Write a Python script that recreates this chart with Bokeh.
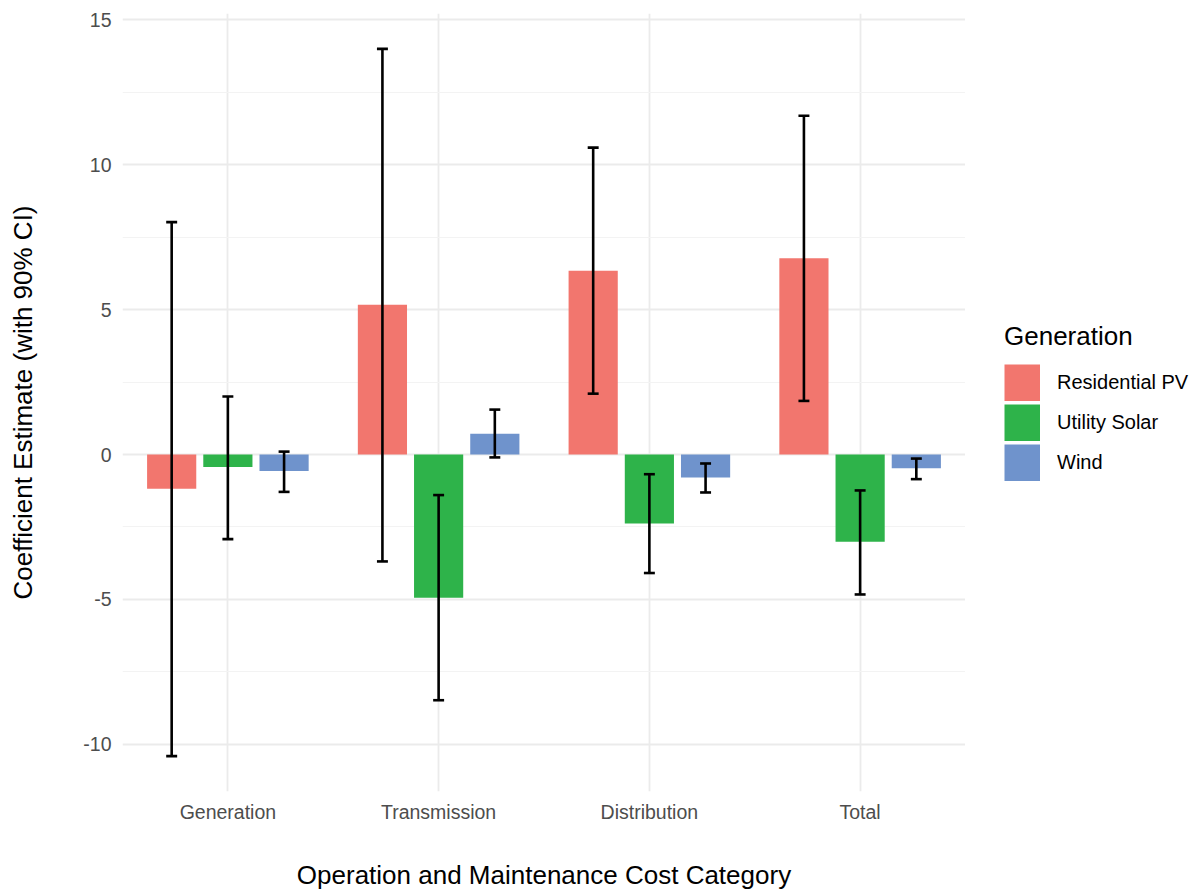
from bokeh.plotting import figure
from bokeh.layouts import row
from bokeh.models import (ColumnDataSource, FactorRange, Range1d, FixedTicker,
                          Legend, LegendItem)
from bokeh.transform import dodge
from bokeh.embed import file_html
from bokeh.resources import INLINE

# O&M cost coefficient estimates with 90% confidence intervals
categories = ["Generation", "Transmission", "Distribution", "Total"]
series_names = ["Residential PV", "Utility Solar", "Wind"]

res_pv = [-1.18, 5.17, 6.34, 6.77]
res_pv_lo = [-10.41, -3.69, 2.10, 1.85]
res_pv_hi = [8.02, 14.00, 10.59, 11.69]

util_solar = [-0.43, -4.94, -2.38, -3.01]
util_solar_lo = [-2.92, -8.48, -4.09, -4.83]
util_solar_hi = [2.00, -1.40, -0.68, -1.24]

wind = [-0.57, 0.72, -0.79, -0.47]
wind_lo = [-1.29, -0.10, -1.31, -0.85]
wind_hi = [0.10, 1.55, -0.31, -0.14]

y_ticks = [-10, -5, 0, 5, 10, 15]
y_minor = [-7.5, -2.5, 2.5, 7.5, 12.5]

colors = ["#F2766E", "#2EB34A", "#6F93CC"]
FONT = "Liberation Sans"

p = figure(width=965, height=892, output_backend="svg", toolbar_location=None,
           x_range=FactorRange(*categories, range_padding=0),
           y_range=Range1d(-11.63, 15.22),
           min_border_left=122, min_border_right=0,
           min_border_top=13, min_border_bottom=101)
p.outline_line_color = None
p.background_fill_color = "white"
p.border_fill_color = "white"

# grid
p.xgrid.grid_line_color = "#EBEBEB"
p.xgrid.grid_line_width = 1.8
p.ygrid.ticker = FixedTicker(ticks=y_ticks, minor_ticks=y_minor)
p.ygrid.grid_line_color = "#EBEBEB"
p.ygrid.grid_line_width = 1.8
p.ygrid.minor_grid_line_color = "#F3F3F3"
p.ygrid.minor_grid_line_width = 1.0

# axes
p.yaxis.ticker = FixedTicker(ticks=y_ticks, minor_ticks=y_minor)
p.yaxis.major_label_overrides = {t: str(t) for t in y_ticks}
for ax in (p.xaxis[0], p.yaxis[0]):
    ax.axis_line_color = None
    ax.major_tick_line_color = None
    ax.minor_tick_line_color = None
    ax.major_tick_out = 0
    ax.major_tick_in = 0
    ax.minor_tick_out = 0
    ax.minor_tick_in = 0
    ax.major_label_text_font = FONT
    ax.major_label_text_font_size = "19.5px"
    ax.major_label_text_color = "#4D4D4D"
    ax.axis_label_text_font = FONT
    ax.axis_label_text_font_size = "26px"
    ax.axis_label_text_font_style = "normal"
    ax.axis_label_text_color = "black"

p.xaxis.axis_label = "Operation and Maintenance Cost Category"
p.yaxis.axis_label = "Coefficient Estimate (with 90% CI)"
p.xaxis.major_label_standoff = 9
p.xaxis.axis_label_standoff = 34
p.yaxis.major_label_standoff = 11
p.yaxis.axis_label_standoff = 42

values = [res_pv, util_solar, wind]
lows = [res_pv_lo, util_solar_lo, wind_lo]
highs = [res_pv_hi, util_solar_hi, wind_hi]
offsets = [-0.8 / 3, 0.0, 0.8 / 3]
bar_w = 0.7 / 3
cap = 0.026

for name, vals, col, off in zip(series_names, values, colors, offsets):
    src = ColumnDataSource(dict(cat=categories, val=vals))
    p.vbar(x=dodge("cat", off, range=p.x_range), top="val", bottom=0,
           width=bar_w, fill_color=col, line_color=None, source=src)

# error bars with caps
for vals, lo, hi, off in zip(values, lows, highs, offsets):
    src = ColumnDataSource(dict(cat=categories, lo=lo, hi=hi))
    p.segment(x0=dodge("cat", off, range=p.x_range), y0="lo",
              x1=dodge("cat", off, range=p.x_range), y1="hi",
              line_color="black", line_width=2.6, source=src)
    for yk in ("lo", "hi"):
        p.segment(x0=dodge("cat", off - cap, range=p.x_range), y0=yk,
                  x1=dodge("cat", off + cap, range=p.x_range), y1=yk,
                  line_color="black", line_width=2.6, source=src)

# legend panel to the right of the plot; the key swatches are thick
# butt-capped strokes whose data sits outside the visible range
KEY_H = 37
leg = figure(width=234, height=892, output_backend="svg", toolbar_location=None,
             x_axis_type=None, y_axis_type=None,
             x_range=Range1d(0, 1), y_range=Range1d(0, 1),
             min_border_left=0, min_border_right=0,
             min_border_top=0, min_border_bottom=0)
leg.outline_line_color = None
leg.xgrid.visible = False
leg.ygrid.visible = False
items = []
for name, col in zip(series_names, colors):
    r = leg.line(x=[-10, -9], y=[-10, -10], line_color=col,
                 line_width=KEY_H, line_cap="butt")
    items.append(LegendItem(label=name, renderers=[r]))

legend = Legend(items=items, location=(39, 310), title="Generation",
                title_text_font=FONT, title_text_font_size="26px",
                title_text_font_style="normal",
                title_text_color="black", title_standoff=12,
                label_text_font=FONT, label_text_font_size="20px",
                label_text_color="black", label_standoff=17,
                glyph_width=36, glyph_height=KEY_H, label_height=KEY_H,
                spacing=3, padding=0, margin=0, border_line_color=None,
                background_fill_alpha=0)
leg.add_layout(legend, "center")

layout = row(p, leg, spacing=0)
open("out.html", "w").write(file_html(layout, INLINE))
